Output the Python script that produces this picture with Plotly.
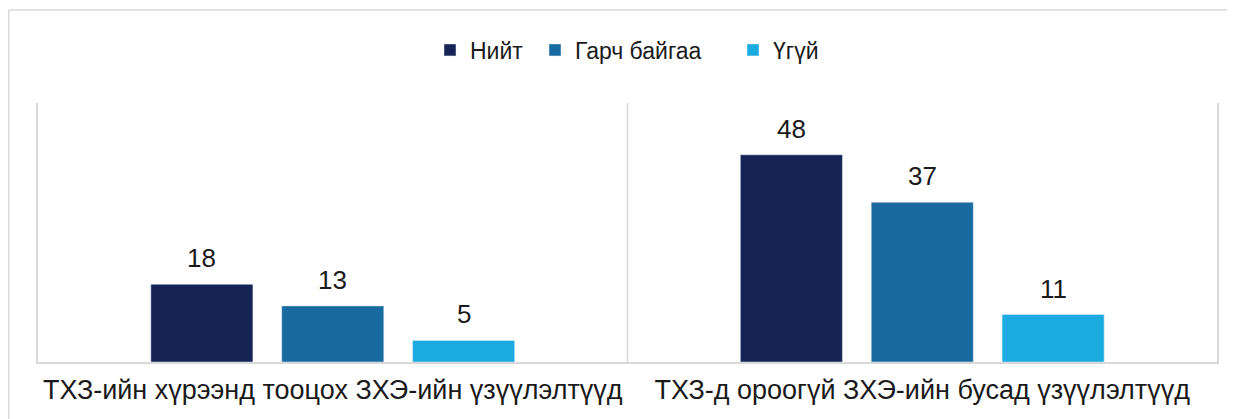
import plotly.graph_objects as go

categories = ["ТХЗ-ийн хүрээнд тооцох ЗХЭ-ийн үзүүлэлтүүд", "ТХЗ-д ороогүй ЗХЭ-ийн бусад үзүүлэлтүүд"]
series_names = ["Нийт", "Гарч байгаа", "Үгүй"]
total = [18, 48]
reporting = [13, 37]
not_reporting = [5, 11]
colors = ["#162455", "#1a6aa2", "#1aabe0"]
legend_widths = [60, 153, None]

# page body has an 8px margin, so the figure is offset by 8px
W, H = 1227, 411
ml, mr, mt, mb = 30, 18, 95, 57
pw, ph = W - ml - mr, H - mt - mb
bargap, bargroupgap = 0.334, 0.22
font_family = "Liberation Sans, Arial"

series = [total, reporting, not_reporting]
fig = go.Figure()
for name, vals, col, lw in zip(series_names, series, colors, legend_widths):
    tr = go.Bar(x=categories, y=vals, name=name, marker_color=col)
    if lw:
        tr.legendwidth = lw
    fig.add_trace(tr)

# value labels above the bars (offset per series within the group)
slot_px = (pw / len(categories)) * (1 - bargap) / len(series)
for i, vals in enumerate(series):
    for cat, v in zip(categories, vals):
        fig.add_annotation(x=cat, y=v, xref="x", yref="y", text=str(v), showarrow=False,
                           yanchor="bottom", xanchor="center",
                           xshift=(i - (len(series) - 1) / 2) * slot_px, yshift=9,
                           font=dict(size=26, color="#1a1a1a", family=font_family))

grid_col = "#d9d9d9"
fx = (0.75 - ml) / pw
fy = (H - mb - 2) / ph
fig.add_shape(type="line", xref="paper", yref="paper", x0=fx, x1=fx, y0=fy, y1=-1, line=dict(color=grid_col, width=1.5))
fig.add_shape(type="line", xref="paper", yref="paper", x0=fx, x1=1.1, y0=fy, y1=fy, line=dict(color=grid_col, width=1.5))
fig.add_shape(type="line", xref="x", yref="paper", x0=0.5, x1=0.5, y0=0, y1=1, line=dict(color=grid_col, width=1.5))

fig.update_layout(
    width=W, height=H,
    margin=dict(l=ml, r=mr, t=mt, b=mb),
    paper_bgcolor="white", plot_bgcolor="white",
    barmode="group", bargap=bargap, bargroupgap=bargroupgap,
    font=dict(family=font_family, size=23, color="#1a1a1a"),
    showlegend=True,
    legend=dict(orientation="h", x=(422 - ml) / pw, xanchor="left", y=(H - mb - 42) / ph, yanchor="middle",
                font=dict(size=23), traceorder="normal"),
    xaxis=dict(showline=True, linecolor=grid_col, linewidth=1.5, showgrid=False, ticks="",
               tickfont=dict(size=27), ticklabelstandoff=3),
    yaxis=dict(range=[0, 60], showline=True, mirror=True, linecolor=grid_col, linewidth=1.5,
               showgrid=False, zeroline=False, showticklabels=False, ticks=""),
)

fig.write_html("out.html")
